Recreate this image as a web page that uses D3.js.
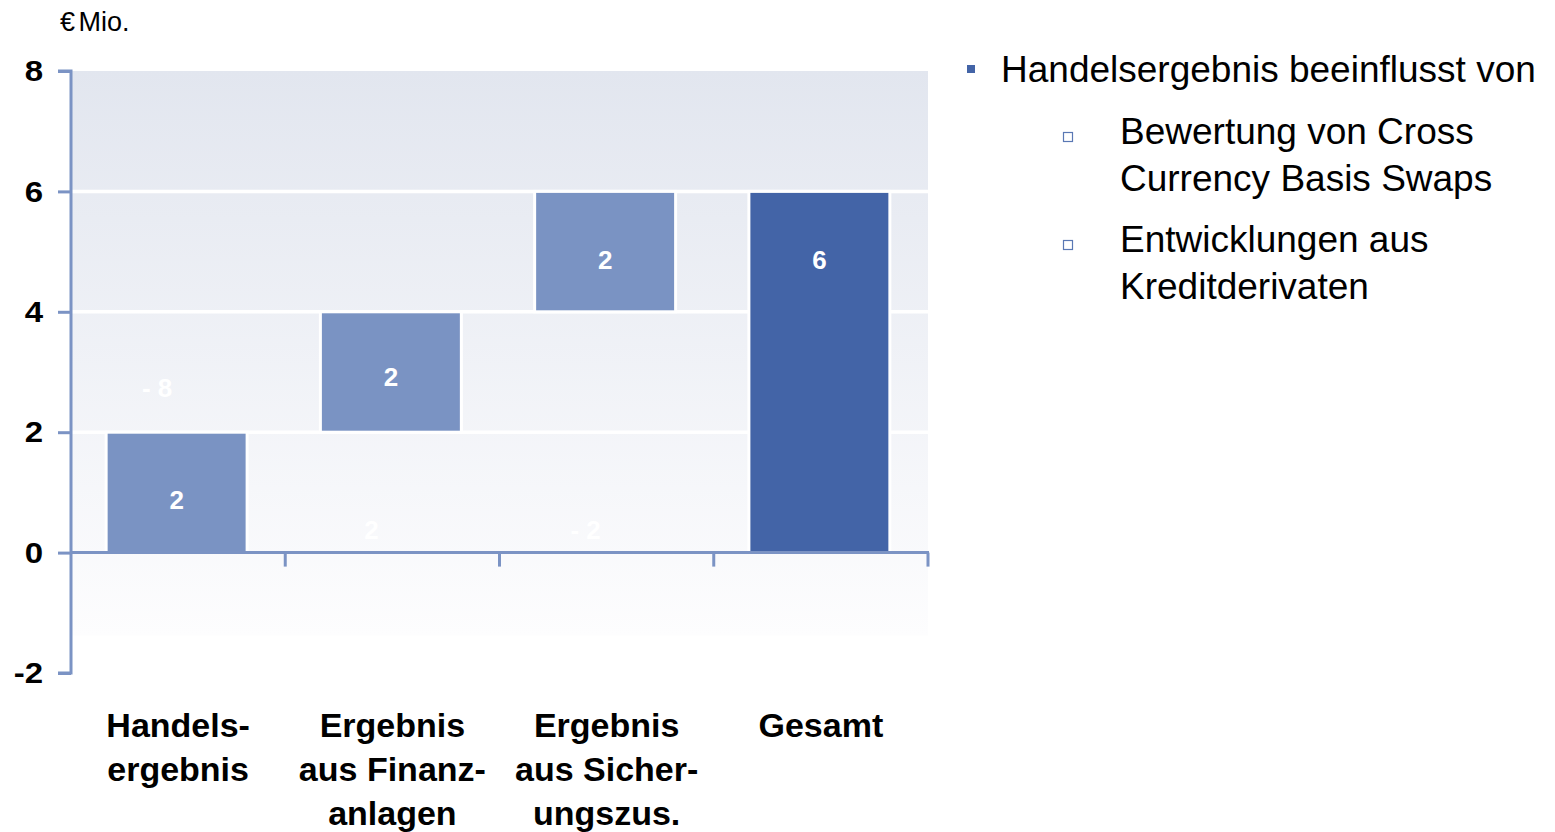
<!DOCTYPE html>
<html>
<head>
<meta charset="utf-8">
<script src="https://cdn.jsdelivr.net/npm/d3@7"></script>
<style>
  html, body { margin: 0; padding: 0; background: #ffffff; }
  svg { display: block; font-family: "Liberation Sans", Arial, Helvetica, sans-serif; }
</style>
</head>
<body>
<svg id="chart" width="1555" height="832"></svg>
<script>
// ---- data ----
const categories = [
  ["Handels-", "ergebnis"],
  ["Ergebnis", "aus Finanz-", "anlagen"],
  ["Ergebnis", "aus Sicher-", "ungszus."],
  ["Gesamt"]
];
const barStart = [0, 2, 4, 0];
const barEnd = [2, 4, 6, 6];
const barValues = ["2", "2", "2", "6"];
const barKind = ["delta", "delta", "delta", "total"];
const labelY = [0.87, 2.92, 4.86, 4.86];
const ghostLabels = ["- 8", "2", "- 2"];
const ghostCat = [0, 1, 2];
const ghostY = [2.73, 0.37, 0.37];
const yTicks = [-2, 0, 2, 4, 6, 8];
const gridValues = [2, 4, 6];
const unitLabel = "€ Mio.";
const bulletMain = "Handelsergebnis beeinflusst von";
const bulletSub = [["Bewertung von Cross", "Currency Basis Swaps"], ["Entwicklungen aus", "Kreditderivaten"]];

// ---- styles ----
const axisColor = "#7b93c4";
const lightBar = "#7a93c3";
const darkBar = "#4364a7";

const svg = d3.select("#chart");

const y = d3.scaleLinear().domain([-2, 8]).range([673, 71]);
const x = d3.scaleBand().domain(d3.range(categories.length)).range([71, 928]).padding(0);
const barW = x.bandwidth() * 0.658;

// background gradient
const defs = svg.append("defs");
const grad = defs.append("linearGradient").attr("id", "bg").attr("x1", 0).attr("y1", 0).attr("x2", 0).attr("y2", 1);
grad.append("stop").attr("offset", "0%").attr("stop-color", "#e2e6ef");
grad.append("stop").attr("offset", "100%").attr("stop-color", "#fdfdfe");

svg.append("rect")
  .attr("x", 72).attr("y", y(8))
  .attr("width", 928 - 72).attr("height", y(-1.38) - y(8))
  .attr("fill", "url(#bg)");

// gridlines
svg.selectAll("line.grid").data(gridValues).join("line")
  .attr("class", "grid")
  .attr("x1", 72).attr("x2", 928)
  .attr("y1", d => y(d)).attr("y2", d => y(d))
  .attr("stroke", "#ffffff").attr("stroke-width", 3.5);

// ghost labels (faint white)
svg.selectAll("text.ghost").data(ghostLabels).join("text")
  .attr("class", "ghost")
  .attr("x", (d, i) => x(ghostCat[i]) + x.bandwidth() / 2 - 21)
  .attr("y", (d, i) => y(ghostY[i]))
  .attr("text-anchor", "middle")
  .attr("dominant-baseline", "central")
  .attr("font-size", 26).attr("font-weight", "bold")
  .attr("fill", "#ffffff")
  .text(d => d);

// bars
svg.selectAll("rect.bar").data(barValues).join("rect")
  .attr("class", "bar")
  .attr("x", (d, i) => x(i) + (x.bandwidth() - barW) / 2 - 1.5)
  .attr("y", (d, i) => y(barEnd[i]))
  .attr("width", barW)
  .attr("height", (d, i) => y(barStart[i]) - y(barEnd[i]))
  .attr("fill", (d, i) => barKind[i] === "total" ? darkBar : lightBar)
  .attr("stroke", "#ffffff").attr("stroke-width", 3);

// bar labels
svg.selectAll("text.val").data(barValues).join("text")
  .attr("class", "val")
  .attr("x", (d, i) => x(i) + x.bandwidth() / 2 - 1.5)
  .attr("y", (d, i) => y(labelY[i]))
  .attr("text-anchor", "middle")
  .attr("dominant-baseline", "central")
  .attr("font-size", 26).attr("font-weight", "bold")
  .attr("fill", "#ffffff")
  .text(d => d);

// x axis (at zero)
const xAxis = svg.append("g").attr("transform", `translate(0,${y(0)})`);
xAxis.append("line").attr("x1", 71).attr("x2", 929).attr("y1", 0).attr("y2", 0)
  .attr("stroke", axisColor).attr("stroke-width", 3);
const boundaries = d3.range(1, categories.length + 1).map(i => x(i - 1) + x.bandwidth());
xAxis.selectAll("line.tick").data(boundaries).join("line")
  .attr("class", "tick")
  .attr("x1", d => d).attr("x2", d => d).attr("y1", 0).attr("y2", 14)
  .attr("stroke", axisColor).attr("stroke-width", 3);

// y axis
const tickSx = 1.1;
const yAxisG = svg.append("g").attr("transform", "translate(71,0)")
  .call(d3.axisLeft(y).tickValues(yTicks).tickSize(13).tickPadding(15).tickFormat(d => String(d)));
yAxisG.select(".domain").attr("stroke", axisColor).attr("stroke-width", 3)
  .attr("d", `M-13,${y(8)}H0V${y(-2)}H-13`);
yAxisG.selectAll(".tick line").attr("stroke", axisColor).attr("stroke-width", 3);
yAxisG.selectAll(".tick text")
  .attr("font-family", "'Liberation Sans', Arial, sans-serif")
  .attr("font-size", 30).attr("font-weight", "bold").attr("fill", "#000")
  .attr("x", -28 / tickSx)
  .attr("transform", `scale(${tickSx},1)`);

// unit label
svg.append("text")
  .attr("x", 60).attr("y", 31)
  .attr("font-size", 27).attr("word-spacing", -4).attr("fill", "#000").text(unitLabel);

// category labels
categories.forEach((lines, i) => {
  const t = svg.append("text")
    .attr("x", x(i) + x.bandwidth() / 2)
    .attr("y", 737)
    .attr("text-anchor", "middle")
    .attr("font-size", 34).attr("font-weight", "bold").attr("fill", "#000");
  lines.forEach((l, j) => {
    t.append("tspan").attr("x", x(i) + x.bandwidth() / 2).attr("y", 737 + j * 44).text(l);
  });
});

// right text block
svg.append("rect").attr("x", 967).attr("y", 65).attr("width", 8).attr("height", 8).attr("fill", darkBar);
svg.append("text").attr("x", 1001).attr("y", 82)
  .attr("font-size", 37).attr("fill", "#000").text(bulletMain);

const subTop = [144, 252];
bulletSub.forEach((lines, i) => {
  svg.append("rect").attr("x", 1063.5).attr("y", subTop[i] - 11.5).attr("width", 9).attr("height", 9)
    .attr("fill", "none").attr("stroke", "#5a78b4").attr("stroke-width", 1.2);
  const t = svg.append("text").attr("font-size", 37).attr("fill", "#000");
  lines.forEach((l, j) => {
    t.append("tspan").attr("x", 1120).attr("y", subTop[i] + j * 47).text(l);
  });
});
</script>
</body>
</html>
